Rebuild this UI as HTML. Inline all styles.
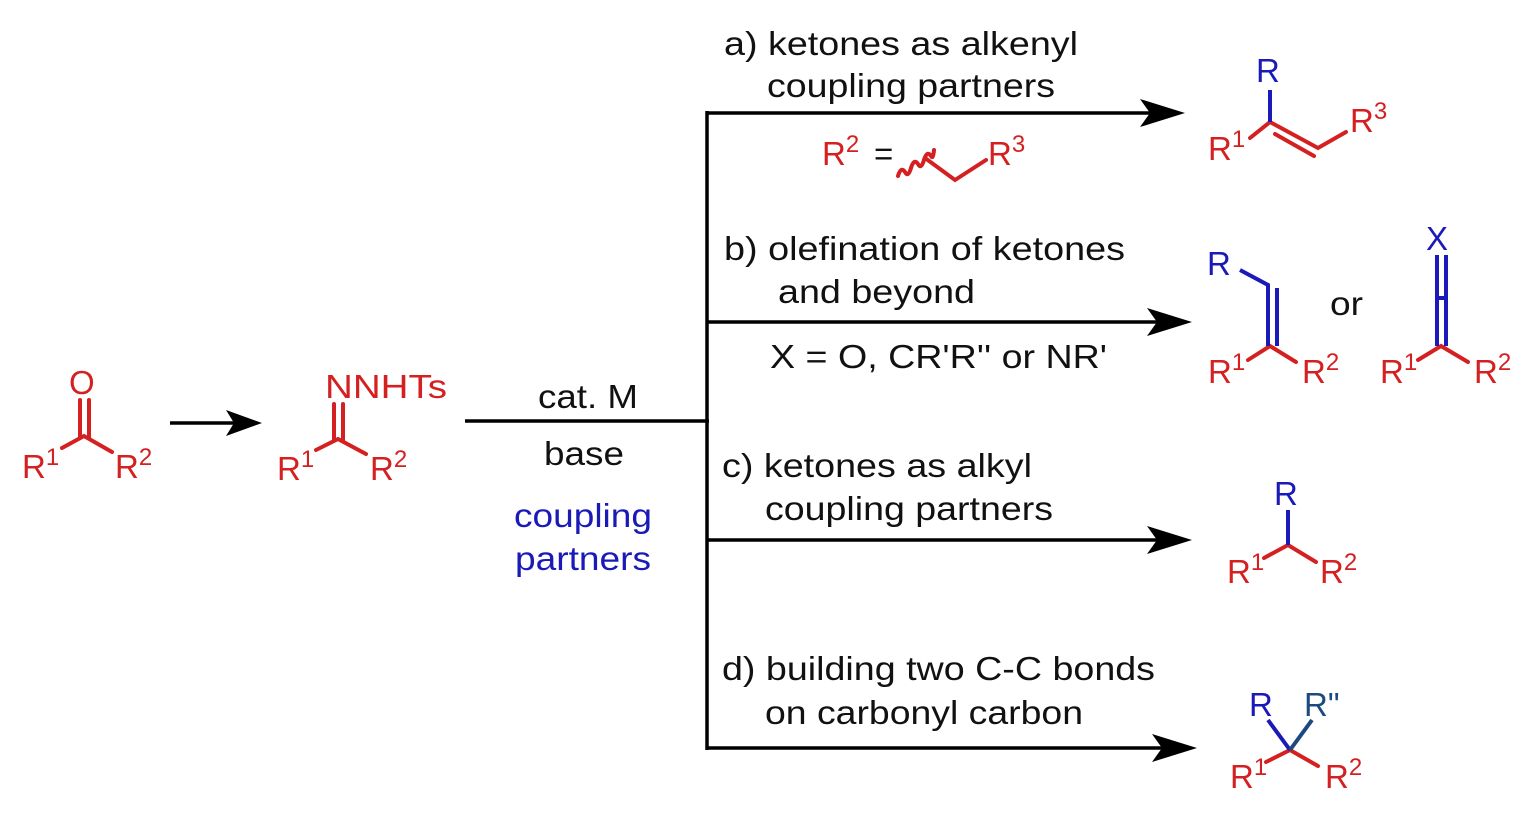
<!DOCTYPE html>
<html><head><meta charset="utf-8"><style>html,body{margin:0;padding:0;background:#fff}svg{display:block}</style></head><body>
<svg width="1532" height="813" viewBox="0 0 1532 813" xmlns="http://www.w3.org/2000/svg" font-family="Liberation Sans, Arial, sans-serif">
<g fill="#000">
<polygon points="262,423 226,410 234,423 226,436"/>
<polygon points="1185,113 1140,99 1150,113 1140,127"/>
<polygon points="1192,322 1147,308 1157,322 1147,336"/>
<polygon points="1192,540 1147,526 1157,540 1147,554"/>
<polygon points="1197,748 1152,734 1162,748 1152,762"/>
</g>
<g stroke="#000" stroke-width="3.5" fill="none">
<line x1="170" y1="423" x2="236" y2="423"/>
<line x1="465" y1="421" x2="709" y2="421"/>
<line x1="707" y1="111" x2="707" y2="750"/>
<line x1="707" y1="113" x2="1150" y2="113"/>
<line x1="707" y1="322" x2="1157" y2="322"/>
<line x1="707" y1="540" x2="1157" y2="540"/>
<line x1="707" y1="748" x2="1162" y2="748"/>
</g>
<g font-size="33" fill="#111">
<text x="538" y="408" textLength="100" lengthAdjust="spacingAndGlyphs">cat. M</text>
<text x="544" y="465" textLength="80" lengthAdjust="spacingAndGlyphs">base</text>
<text x="724" y="55" textLength="354" lengthAdjust="spacingAndGlyphs">a) ketones as alkenyl</text>
<text x="767" y="97" textLength="288" lengthAdjust="spacingAndGlyphs">coupling partners</text>
<text x="724" y="260" textLength="401" lengthAdjust="spacingAndGlyphs">b) olefination of ketones</text>
<text x="778" y="303" textLength="197" lengthAdjust="spacingAndGlyphs">and beyond</text>
<text x="770" y="368" textLength="337" lengthAdjust="spacingAndGlyphs">X = O, CR'R'' or NR'</text>
<text x="722" y="477" textLength="310" lengthAdjust="spacingAndGlyphs">c) ketones as alkyl</text>
<text x="765" y="520" textLength="288" lengthAdjust="spacingAndGlyphs">coupling partners</text>
<text x="722" y="680" textLength="433" lengthAdjust="spacingAndGlyphs">d) building two C-C bonds</text>
<text x="765" y="724" textLength="318" lengthAdjust="spacingAndGlyphs">on carbonyl carbon</text>
<text x="1330" y="315" textLength="33" lengthAdjust="spacingAndGlyphs">or</text>
<text x="874" y="165">=</text>
</g>
<g font-size="33" fill="#1a1ab8">
<text x="514" y="527" textLength="138" lengthAdjust="spacingAndGlyphs">coupling</text>
<text x="515" y="570" textLength="136" lengthAdjust="spacingAndGlyphs">partners</text>
<text x="1256" y="82">R</text>
<text x="1207" y="275">R</text>
<text x="1426" y="250">X</text>
<text x="1274" y="505">R</text>
<text x="1249" y="716">R</text>
<text x="1304" y="716" fill="#1c4a80">R"</text>
</g>
<g font-size="33" fill="#d42020">
<text x="69" y="394">O</text>
<text x="22" y="478">R<tspan font-size="24" dy="-13">1</tspan></text>
<text x="115" y="478">R<tspan font-size="24" dy="-13">2</tspan></text>
<text x="325" y="398" textLength="122" lengthAdjust="spacingAndGlyphs">NNHTs</text>
<text x="277" y="480">R<tspan font-size="24" dy="-13">1</tspan></text>
<text x="370" y="480">R<tspan font-size="24" dy="-13">2</tspan></text>
<text x="822" y="165">R<tspan font-size="24" dy="-13">2</tspan></text>
<text x="988" y="165">R<tspan font-size="24" dy="-13">3</tspan></text>
<text x="1208" y="160">R<tspan font-size="24" dy="-13">1</tspan></text>
<text x="1350" y="132">R<tspan font-size="24" dy="-13">3</tspan></text>
<text x="1208" y="383">R<tspan font-size="24" dy="-13">1</tspan></text>
<text x="1302" y="383">R<tspan font-size="24" dy="-13">2</tspan></text>
<text x="1380" y="383">R<tspan font-size="24" dy="-13">1</tspan></text>
<text x="1474" y="383">R<tspan font-size="24" dy="-13">2</tspan></text>
<text x="1227" y="583">R<tspan font-size="24" dy="-13">1</tspan></text>
<text x="1320" y="583">R<tspan font-size="24" dy="-13">2</tspan></text>
<text x="1230" y="788">R<tspan font-size="24" dy="-13">1</tspan></text>
<text x="1325" y="788">R<tspan font-size="24" dy="-13">2</tspan></text>
</g>
<g stroke="#d42020" stroke-width="4" fill="none" stroke-linecap="round">
<line x1="80" y1="400" x2="80" y2="437"/><line x1="89" y1="400" x2="89" y2="437"/>
<polyline points="62,448 84,436 112,452"/>
<line x1="334" y1="404" x2="334" y2="440"/><line x1="343" y1="404" x2="343" y2="440"/>
<polyline points="316,450 338,439 366,454"/>
<path d="M898,176 q3,-10 7,-4 q3,6 6,-4 q3,-10 7,-4 q3,6 6,-4 q3,-10 7,-4 q2,4 3,-6"/>
<polyline points="925,158 955,180 986,160"/>
<polyline points="1250,138 1270,122 1318,148 1346,132"/>
<line x1="1275" y1="134" x2="1314" y2="156"/>
<polyline points="1248,360 1270,346 1296,362"/>
<polyline points="1418,360 1441,346 1468,362"/>
<polyline points="1264,558 1288,545 1316,562"/>
<polyline points="1266,762 1290,750 1318,766"/>
</g>
<g stroke="#1a1ab8" stroke-width="4" fill="none">
<line x1="1270" y1="90" x2="1270" y2="122"/>
<polyline points="1240,270 1268,285 1268,346"/>
<line x1="1277" y1="288" x2="1277" y2="346"/>
<line x1="1437" y1="255" x2="1437" y2="346"/><line x1="1446" y1="255" x2="1446" y2="346"/>
<line x1="1437" y1="298" x2="1446" y2="298"/>
<line x1="1288" y1="510" x2="1288" y2="545"/>
<line x1="1268" y1="720" x2="1290" y2="750"/>
<line x1="1312" y1="720" x2="1290" y2="750" stroke="#1c4a80"/>
</g>
</svg>
</body></html>
